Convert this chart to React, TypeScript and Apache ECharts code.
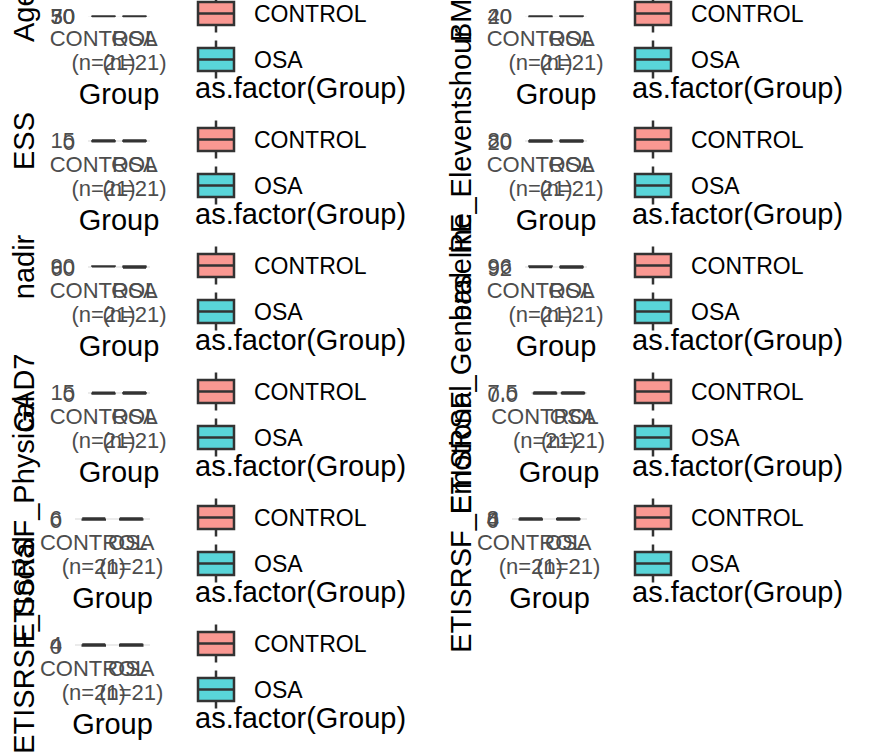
import React, { useEffect, useRef } from 'react';
import * as echarts from 'echarts';

// ---- data ----
const groups = ['CONTROL', 'OSA'];
const groupN = [21, 21];
const groupColors = ['rgba(248,118,109,0.75)', 'rgba(0,191,196,0.65)'];
const xTitle = 'Group';
const legendTitle = 'as.factor(Group)';
const panelTitles = [
  'Age', 'BMI',
  'ESS', 'RE_Eleventshour',
  'nadir', 'baseline',
  'GAD7', 'ETISRSF_General',
  'ETISRSF_Physical', 'ETISRSF_Emotional',
  'ETISRSF_Social',
];
const yTicks: number[][] = [
  [30, 40, 50, 60, 70], [20, 30, 40],
  [0, 5, 10, 15], [20, 40, 60, 80],
  [60, 70, 80, 90], [92, 94, 96],
  [0, 5, 10, 15], [0, 2.5, 5, 7.5],
  [0, 2, 4, 6], [0, 2, 4, 6, 8],
  [0, 2, 4],
];
const yTickDecimals = [0, 0, 0, 0, 0, 0, 0, 1, 0, 0, 0];
// [min, Q1, median, Q3, max]
const controlBoxes: number[][] = [
  [32, 42, 50, 57, 68], [20, 24, 27, 31, 38],
  [1, 4, 6, 9, 15], [20, 30, 42, 55, 78],
  [78, 85, 88, 90, 90], [93, 95, 96, 96, 96],
  [0, 1, 3, 6, 13], [0, 1, 2.5, 4, 7.5],
  [0, 0, 1, 2, 6], [0, 1, 2, 4, 8],
  [0, 0, 1, 2, 4],
];
const osaBoxes: number[][] = [
  [35, 46, 53, 60, 70], [24, 29, 33, 37, 40],
  [2, 6, 9, 12, 15], [20, 35, 48, 62, 80],
  [60, 75, 81, 85, 90], [92, 93, 94, 95, 96],
  [0, 3, 6, 10, 15], [0, 2, 3.5, 5, 7.5],
  [0, 1, 2, 3, 6], [0, 2, 3, 5, 8],
  [0, 0, 1, 3, 4],
];

// ---- layout ----
const FONT = 'Liberation Sans, Arial, Helvetica, sans-serif';
const COL_DX = 437;
const ROW_DY = 126;
const panelLeft = [88, 525, 88, 525, 88, 525, 88, 531, 75, 512, 75];
const colRight = [150, 587];
const titleBase = [38.5, 475.5];

export default function App() {
  const ref = useRef<HTMLDivElement>(null);
  useEffect(() => {
    document.body.style.margin = '0';
    const chart = echarts.init(ref.current!, undefined, { renderer: 'svg' });
    const grids: any[] = [];
    const xAxes: any[] = [];
    const yAxes: any[] = [];
    const series: any[] = [];
    const graphics: any[] = [];
    panelTitles.forEach((title, i) => {
      const col = i % 2;
      const row = Math.floor(i / 2);
      const L = panelLeft[i];
      const R = colRight[col];
      const top = 14 + row * ROW_DY;
      grids.push({
        left: L, top, width: R - L, height: 2,
        show: true, backgroundColor: '#EBEBEB', borderWidth: 0,
      });
      xAxes.push({
        type: 'category', gridIndex: i, data: groups,
        name: xTitle, nameLocation: 'middle', nameGap: 63,
        nameTextStyle: { fontSize: 29, color: '#000', fontFamily: FONT },
        axisLine: { show: false }, axisTick: { show: false },
        axisLabel: {
          interval: 0, margin: 10, fontSize: 22, lineHeight: 24, color: '#4D4D4D', fontFamily: FONT,
          formatter: (v: string, idx: number) => `${v}\n(n=${groupN[idx]})`,
        },
        splitLine: { show: false },
      });
      const t = yTicks[i];
      yAxes.push({
        type: 'value', gridIndex: i,
        min: t[0], max: t[t.length - 1], interval: t[1] - t[0],
        name: title, nameLocation: 'middle', nameRotate: 90,
        nameGap: L - titleBase[col],
        nameTextStyle: { fontSize: 29, color: '#000', fontFamily: FONT },
        axisLine: { show: false }, axisTick: { show: false },
        splitLine: { show: false },
        axisLabel: {
          margin: 13, fontSize: 22, color: '#4D4D4D', fontFamily: FONT,
          showMinLabel: true, showMaxLabel: true, hideOverlap: false,
          formatter: (v: number) => v.toFixed(yTickDecimals[i]),
        },
      });
      series.push({
        type: 'boxplot', xAxisIndex: i, yAxisIndex: i,
        boxWidth: [23, 23],
        itemStyle: { borderColor: '#333333', borderWidth: 1.5 },
        data: [
          { value: controlBoxes[i], itemStyle: { color: groupColors[0] } },
          { value: osaBoxes[i], itemStyle: { color: groupColors[1] } },
        ],
      });
      // legend (drawn)
      const ox = col * COL_DX;
      const oy = row * ROW_DY;
      const keyCY = [13.5, 59.5];
      groups.forEach((g, gi) => {
        const cy = keyCY[gi] + oy;
        const cx = 216 + ox;
        graphics.push(
          { type: 'line', shape: { x1: cx, y1: cy - 19, x2: cx, y2: cy - 11.5 }, style: { stroke: '#333333', lineWidth: 2.5 } },
          { type: 'line', shape: { x1: cx, y1: cy + 11.5, x2: cx, y2: cy + 19 }, style: { stroke: '#333333', lineWidth: 2.5 } },
          { type: 'rect', shape: { x: cx - 18, y: cy - 11.5, width: 36, height: 23 }, style: { fill: groupColors[gi], stroke: '#333333', lineWidth: 2.5 } },
          { type: 'line', shape: { x1: cx - 18, y1: cy, x2: cx + 18, y2: cy }, style: { stroke: '#333333', lineWidth: 2.5 } },
          { type: 'text', x: 254 + ox, y: cy, style: { text: g, fontSize: 23, fill: '#000', fontFamily: FONT, verticalAlign: 'middle', align: 'left' } },
        );
      });
      graphics.push({ type: 'text', x: 195 + ox, y: 88 + oy, style: { text: legendTitle, fontSize: 29, fill: '#000', fontFamily: FONT, verticalAlign: 'middle', align: 'left' } });
    });
    chart.setOption({
      animation: false,
      backgroundColor: '#FFFFFF',
      grid: grids,
      xAxis: xAxes,
      yAxis: yAxes,
      series,
      graphic: graphics,
    });
    return () => chart.dispose();
  }, []);
  return <div ref={ref} style={{ width: 872, height: 756 }} />;
}
